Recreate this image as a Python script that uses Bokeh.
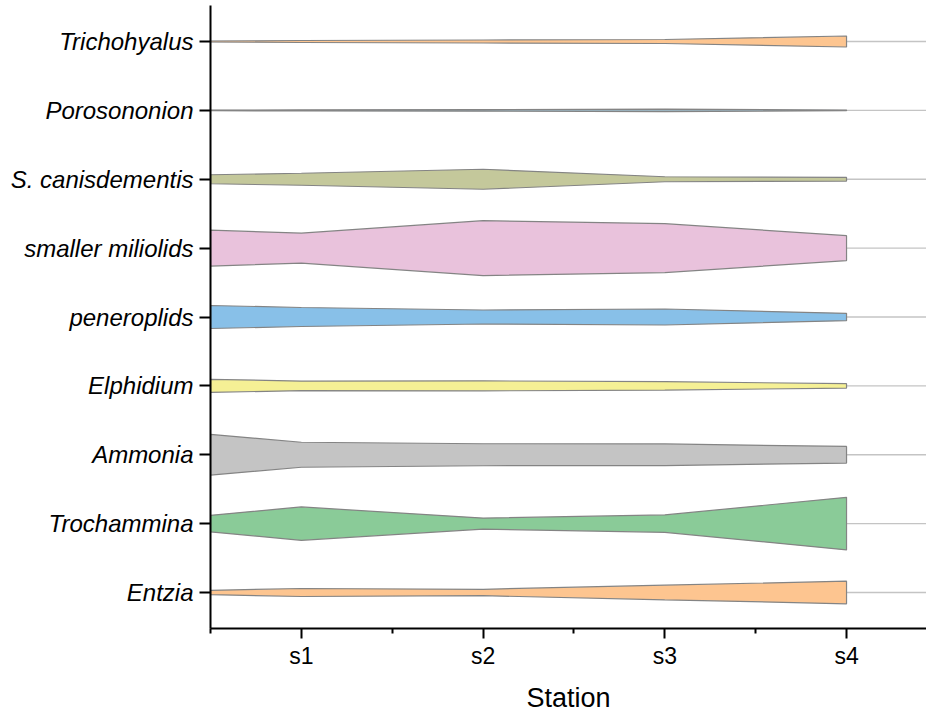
from bokeh.plotting import figure
from bokeh.models import FixedTicker
from bokeh.embed import file_html
from bokeh.resources import INLINE

# Station positions (0.5 = left edge of the diagram)
stations = [0.5, 1, 2, 3, 4]
station_labels = {1: "s1", 2: "s2", 3: "s3", 4: "s4"}

# Species, bottom to top
species = ["Entzia", "Trochammina", "Ammonia", "Elphidium", "peneroplids",
           "smaller miliolids", "S. canisdementis", "Porosononion", "Trichohyalus"]

# Relative abundance (kite widths) at each station position
entzia = [2.2, 4.0, 3.2, 7.3, 11.3]
trochammina = [8.3, 16.7, 5.5, 8.7, 26.3]
ammonia = [20.3, 12.5, 11.0, 10.8, 8.3]
elphidium = [6.5, 4.8, 5.0, 4.2, 2.2]
peneroplids = [11.5, 9.5, 7.0, 8.0, 3.7]
smaller_miliolids = [18.0, 15.0, 27.5, 24.5, 12.5]
s_canisdementis = [4.5, 6.0, 10.0, 2.5, 1.8]
porosononion = [0.3, 0.5, 0.8, 1.2, 0.3]
trichohyalus = [0.5, 1.0, 1.5, 2.0, 5.5]

series = [entzia, trochammina, ammonia, elphidium, peneroplids,
          smaller_miliolids, s_canisdementis, porosononion, trichohyalus]
colors = ["#fdc590", "#8acb98", "#c4c4c4", "#f5f095", "#88c0e8",
          "#e9c2dc", "#c4c89b", "#9ab3bf", "#fdc590"]

SCALE = 1.0 / 68.9  # y-units per abundance unit (half-width of kite)
X_END = 4.44

p = figure(width=926, height=716, output_backend="svg", toolbar_location=None,
           x_range=(0.5, X_END), y_range=(0.477, 9.523),
           min_border_left=210, min_border_right=0, min_border_top=5, min_border_bottom=88)
p.outline_line_color = None
p.grid.visible = False
p.background_fill_color = "white"
p.border_fill_color = "white"

for i, (name, vals, col) in enumerate(zip(species, series, colors)):
    yc = i + 1
    p.line([stations[0], X_END], [yc, yc], line_color="#c4c4c4", line_width=1.3)
    xs = stations + stations[::-1]
    ys = [yc + v * SCALE for v in vals] + [yc - v * SCALE for v in vals[::-1]]
    p.patch(xs, ys, fill_color=col, line_color="#848484", line_width=1.2)

# X axis
xa = p.xaxis[0]
xa.ticker = FixedTicker(ticks=[1, 2, 3, 4], minor_ticks=[0.5, 1.5, 2.5, 3.5])
xa.major_label_overrides = station_labels
xa.axis_label = "Station"
xa.axis_label_text_font = "Liberation Sans"
xa.axis_label_text_font_size = "27px"
xa.axis_label_text_font_style = "normal"
xa.axis_label_text_color = "black"
xa.axis_label_standoff = 11
xa.major_label_text_font = "Liberation Sans"
xa.major_label_text_font_size = "23px"
xa.major_label_text_color = "black"
xa.major_label_standoff = 4
xa.axis_line_width = 2
xa.axis_line_color = "black"
xa.major_tick_line_width = 2
xa.minor_tick_line_width = 2
xa.major_tick_out = 10
xa.major_tick_in = 0
xa.minor_tick_out = 5
xa.minor_tick_in = 0

# Y axis
ya = p.yaxis[0]
ya.ticker = FixedTicker(ticks=list(range(1, 10)), minor_ticks=[])
ya.major_label_overrides = {i + 1: s for i, s in enumerate(species)}
ya.major_label_text_font = "Liberation Sans"
ya.major_label_text_font_size = "24px"
ya.major_label_text_font_style = "italic"
ya.major_label_text_color = "black"
ya.major_label_standoff = 6
ya.axis_line_width = 2
ya.axis_line_color = "black"
ya.major_tick_line_width = 2
ya.major_tick_out = 11
ya.major_tick_in = 0
ya.minor_tick_out = 0
ya.minor_tick_in = 0

open("out.html", "w").write(file_html(p, INLINE))
